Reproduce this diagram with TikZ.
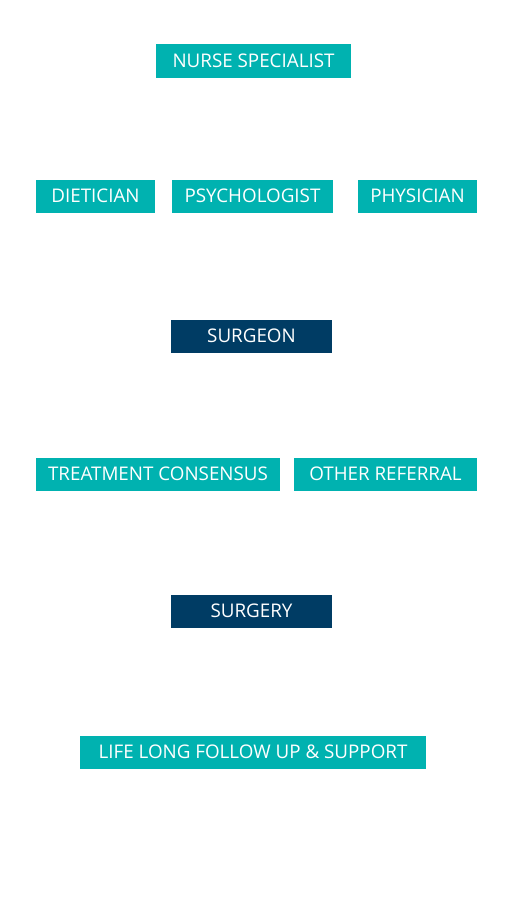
\documentclass[tikz,border=0pt]{standalone}
\usepackage{fontspec}
\setmainfont{Open Sans}
\usetikzlibrary{positioning}
\definecolor{tealbox}{HTML}{00B2B0}
\definecolor{navybox}{HTML}{003C64}

\begin{document}
\begin{tikzpicture}[x=1pt, y=-1pt,
  stage/.style={rectangle, fill=tealbox, text=white, inner sep=0pt,
    minimum height=33pt, font=\fontsize{18.8}{22}\selectfont},
  key_stage/.style={stage, fill=navybox}]
  \useasboundingbox (0,0) rectangle (510,900);
  \node[stage, minimum width=195pt, minimum height=34pt] (nurse) at (253.5, 60.5) {NURSE SPECIALIST};
  \node[stage, minimum width=119pt] (diet) at (95.5, 196) {DIETICIAN};
  \node[stage, minimum width=161pt] (psych) at (252.5, 196) {PSYCHOLOGIST};
  \node[stage, minimum width=119pt] (phys) at (417.5, 196) {PHYSICIAN};
  \node[key_stage, minimum width=161pt] (surgeon) at (251.5, 336) {SURGEON};
  \node[stage, minimum width=244pt] (consensus) at (158, 474) {TREATMENT CONSENSUS};
  \node[stage, minimum width=183pt] (referral) at (385.5, 474) {OTHER REFERRAL};
  \node[key_stage, minimum width=161pt] (surgery) at (251.5, 611) {SURGERY};
  \node[stage, minimum width=346pt] (followup) at (253, 752) {LIFE LONG FOLLOW UP \& SUPPORT};
\end{tikzpicture}
\end{document}
